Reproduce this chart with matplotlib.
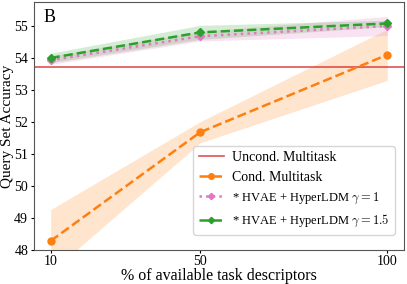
import numpy as np
import matplotlib.pyplot as plt

plt.rcParams['font.family'] = 'serif'
plt.rcParams['font.serif'] = ['Liberation Serif', 'DejaVu Serif']
plt.rcParams['mathtext.fontset'] = 'cm'

pct = [10, 50, 100]  # % of available task descriptors
uncond = 53.72
cond_mean = [48.28, 51.68, 54.1]
cond_std = [0.98, 0.33, 0.8]
hv1_mean = [53.93, 54.68, 55.0]
hv1_std = [0.13, 0.15, 0.3]
hv15_mean = [54.0, 54.8, 55.08]
hv15_std = [0.15, 0.22, 0.1]

fig = plt.figure(figsize=(4.07, 2.84), dpi=100)
ax = fig.add_axes([0.083, 0.12, 0.91, 0.873])

ax.axhline(uncond, color='tab:red', alpha=0.8, lw=1.2, label='Uncond. Multitask')

def band(m, s, c, ls, marker, label, ms):
    m = np.array(m); s = np.array(s)
    ax.plot(pct, m, color=c, ls=ls, marker=marker, ms=ms, lw=1.8, label=label)
    ax.fill_between(pct, m - s, m + s, color=c, alpha=0.2, lw=0)

band(cond_mean, cond_std, 'tab:orange', '--', 'o', 'Cond. Multitask', 5)
band(hv1_mean, hv1_std, 'tab:pink', ':', 'D', r'* HVAE + HyperLDM $\gamma = 1$', 4)
band(hv15_mean, hv15_std, 'tab:green', '--', 'D', r'* HVAE + HyperLDM $\gamma = 1.5$', 4)

ax.set_ylim(48, 55.75)
ax.set_xticks(pct)
ax.tick_params(labelsize=10, pad=1.5, length=2.5)
ax.set_xlabel('% of available task descriptors', fontsize=11.5, labelpad=0)
ax.set_ylabel('Query Set Accuracy', fontsize=11, labelpad=0.5)
ax.text(0.025, 0.97, 'B', transform=ax.transAxes, fontsize=13, va='top', ha='left')
for sp in ax.spines.values():
    sp.set_color('#555555')
leg = ax.legend(loc='lower right', bbox_to_anchor=(0.975, 0.06), borderaxespad=0,
                fontsize=10, markerscale=0.8, handlelength=1.8, handletextpad=0.6)
for t in leg.get_texts()[2:]:
    t.set_fontsize(9)

fig.savefig('out.png')
